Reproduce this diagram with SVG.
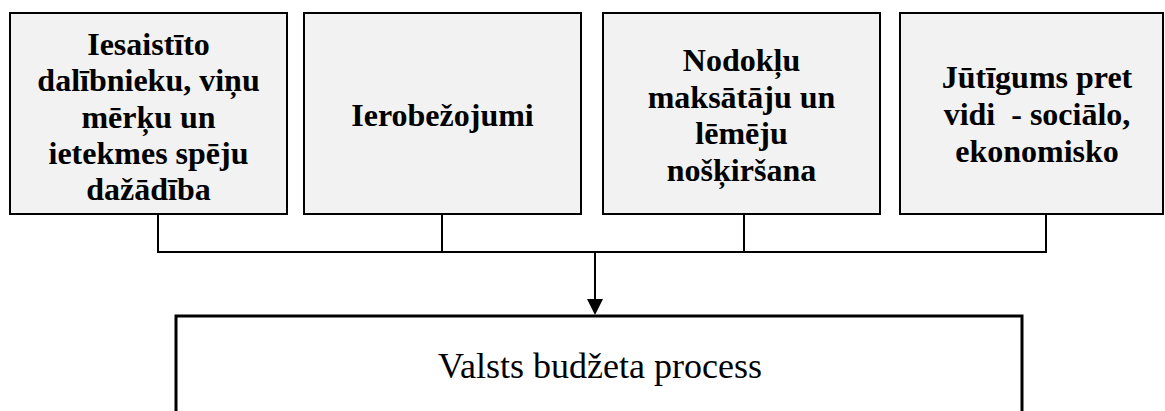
<svg xmlns="http://www.w3.org/2000/svg" width="1165" height="411" viewBox="0 0 1165 411">
  <style>
    .box { fill: #f2f2f2; stroke: #000; stroke-width: 2; }
    .main { fill: #fff; stroke: #000; stroke-width: 3; }
    .t { font-family: "Liberation Serif", "Times New Roman", serif; font-weight: bold; font-size: 32px; fill: #000; text-anchor: middle; white-space: pre; }
    .m { font-family: "Liberation Serif", "Times New Roman", serif; font-size: 36px; fill: #000; text-anchor: middle; }
    .conn { fill: none; stroke: #000; stroke-width: 2; }
  </style>
  <defs>
    <marker id="arrow" markerUnits="userSpaceOnUse" markerWidth="16" markerHeight="17" refX="8" refY="16" orient="auto-start-reverse" viewBox="0 0 16 17">
      <polygon points="0,0 16,0 8,17" fill="#000" transform="rotate(0)"/>
    </marker>
  </defs>
  <rect width="1165" height="411" fill="#fff"/>

  <g id="node1">
    <rect class="box" x="10" y="13" width="277" height="201"/>
    <text class="t" x="148.5" y="55">Iesaistīto</text>
    <text class="t" x="148.5" y="91">dalībnieku, viņu</text>
    <text class="t" x="148.5" y="127.5">mērķu un</text>
    <text class="t" x="148.5" y="164">ietekmes spēju</text>
    <text class="t" x="148.5" y="200">dažādība</text>
  </g>

  <g id="node2">
    <rect class="box" x="304" y="13" width="277" height="201"/>
    <text class="t" x="442.5" y="126">Ierobežojumi</text>
  </g>

  <g id="node3">
    <rect class="box" x="603" y="13" width="277" height="201"/>
    <text class="t" x="741.5" y="71">Nodokļu</text>
    <text class="t" x="741.5" y="107.5">maksātāju un</text>
    <text class="t" x="741.5" y="144">lēmēju</text>
    <text class="t" x="741.5" y="181">nošķiršana</text>
  </g>

  <g id="node4">
    <rect class="box" x="900" y="13" width="263" height="201"/>
    <text class="t" x="1037" y="88">Jūtīgums pret</text>
    <text class="t" x="1037" y="125">vidi  - sociālo,</text>
    <text class="t" x="1037" y="162">ekonomisko</text>
  </g>

  <g id="node5">
    <rect class="main" x="176" y="316" width="846" height="130"/>
    <text class="m" x="600" y="378">Valsts budžeta process</text>
  </g>

  <g id="connectors">
    <polyline class="conn" points="158,214 158,252 1046,252 1046,214"/>
    <line class="conn" x1="442" y1="214" x2="442" y2="252"/>
    <line class="conn" x1="744" y1="214" x2="744" y2="252"/>
    <line class="conn" x1="595" y1="252" x2="595" y2="300"/>
    <polygon points="587,299 603,299 595,315" fill="#000"/>
  </g>
</svg>
